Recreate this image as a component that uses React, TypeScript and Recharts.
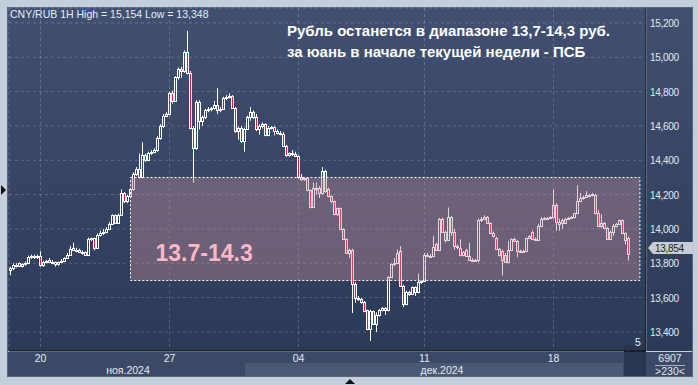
import React from "react";
import {
  ComposedChart,
  Bar,
  XAxis,
  YAxis,
  CartesianGrid,
  ReferenceArea,
  ReferenceLine,
} from "recharts";

// o, h, l, c  (price x1000)
type Candle = [number, number, number, number];

const week1: Candle[] = [
  [13760, 13780, 13730, 13770], [13770, 13800, 13760, 13790], [13790, 13800, 13775, 13785],
  [13800, 13805, 13780, 13785], [13785, 13800, 13775, 13795], [13795, 13810, 13785, 13800],
  [13800, 13845, 13795, 13835], [13835, 13850, 13825, 13840], [13840, 13850, 13825, 13835],
  [13835, 13850, 13825, 13840], [13840, 13870, 13780, 13790], [13790, 13815, 13780, 13810],
  [13810, 13820, 13800, 13815], [13820, 13830, 13800, 13805], [13810, 13820, 13795, 13800],
  [13805, 13810, 13780, 13795], [13795, 13810, 13785, 13805], [13805, 13825, 13800, 13815],
  [13815, 13835, 13810, 13830], [13830, 13860, 13825, 13850], [13850, 13900, 13845, 13885],
  [13890, 13920, 13875, 13880], [13880, 13890, 13865, 13870], [13875, 13885, 13860, 13865],
  [13865, 13875, 13850, 13860], [13865, 13870, 13845, 13850], [13850, 13950, 13845, 13940],
  [13940, 13950, 13930, 13945], [13945, 13950, 13875, 13890], [13890, 13975, 13885, 13965],
  [13965, 13990, 13955, 13975], [13975, 14000, 13965, 13985], [13985, 14010, 13975, 14000],
  [14000, 14040, 13995, 14030], [14030, 14085, 14025, 14080], [14080, 14085, 14030, 14035],
  [14035, 14090, 14030, 14080], [14080, 14230, 14075, 14210], [14210, 14215, 14150, 14160],
  [14160, 14200, 14150, 14190], [14190, 14240, 14180, 14230], [14230, 14330, 14225, 14320],
  [14320, 14360, 14310, 14350], [14350, 14440, 14295, 14300], [14300, 14505, 14295, 14430],
  [14430, 14440, 14390, 14400], [14400, 14450, 14395, 14440], [14440, 14460, 14430, 14450],
  [14450, 14470, 14440, 14460], [14460, 14540, 14450, 14530], [14530, 14610, 14520, 14600],
  [14600, 14670, 14590, 14660], [14660, 14680, 14650, 14670],
];

const week2: Candle[] = [
  [14670, 14800, 14660, 14790], [14790, 14805, 14730, 14745], [14745, 14890, 14740, 14885],
  [14885, 14940, 14870, 14930], [14930, 14945, 14880, 14920], [14920, 15040, 14910, 15030],
  [15030, 15154, 14900, 14910], [14910, 14920, 14580, 14590], [14590, 14600, 14270, 14470],
  [14470, 14750, 14460, 14740], [14740, 14750, 14580, 14630], [14630, 14660, 14600, 14650],
  [14650, 14700, 14640, 14690], [14690, 14710, 14680, 14700], [14700, 14710, 14685, 14705],
  [14705, 14745, 14695, 14720], [14720, 14820, 14670, 14690], [14690, 14710, 14680, 14700],
  [14700, 14770, 14695, 14760], [14760, 14780, 14750, 14770], [14770, 14790, 14760, 14775],
  [14775, 14780, 14700, 14705], [14705, 14710, 14560, 14570], [14570, 14595, 14520, 14590],
  [14590, 14600, 14500, 14510], [14510, 14590, 14450, 14585], [14585, 14660, 14580, 14650],
  [14650, 14710, 14630, 14680], [14680, 14690, 14640, 14650], [14650, 14670, 14570, 14580],
  [14580, 14610, 14550, 14600], [14600, 14620, 14585, 14610], [14610, 14615, 14540, 14545],
  [14545, 14600, 14540, 14590], [14590, 14600, 14580, 14592], [14592, 14600, 14545, 14570],
  [14570, 14580, 14550, 14560], [14560, 14570, 14545, 14555], [14555, 14565, 14480, 14485],
  [14485, 14490, 14420, 14430], [14430, 14445, 14420, 14440], [14440, 14460, 14425, 14435],
  [14435, 14450, 14420, 14425],
];

const week3: Candle[] = [
  [14425, 14430, 14290, 14300], [14300, 14320, 14280, 14290], [14290, 14300, 14280, 14295],
  [14295, 14300, 14220, 14225], [14225, 14230, 14120, 14130], [14130, 14270, 14125, 14240],
  [14240, 14270, 14200, 14235], [14240, 14250, 14180, 14210], [14210, 14360, 14200, 14340],
  [14340, 14345, 14210, 14220], [14230, 14240, 14185, 14190], [14190, 14195, 14150, 14160],
  [14160, 14165, 14080, 14085], [14085, 14125, 14075, 14120], [14120, 14125, 13995, 14000],
  [14000, 14005, 13935, 13940], [13940, 13945, 13855, 13860], [13860, 13885, 13830, 13880],
  [13880, 13885, 13510, 13680], [13680, 13690, 13570, 13595], [13595, 13610, 13580, 13590],
  [13590, 13600, 13565, 13575], [13575, 13580, 13515, 13520], [13525, 13530, 13410, 13415],
  [13415, 13530, 13348, 13520], [13520, 13525, 13440, 13445], [13445, 13515, 13400, 13500],
  [13500, 13535, 13490, 13530], [13530, 13545, 13520, 13540], [13540, 13545, 13500, 13530],
  [13530, 13725, 13520, 13720], [13720, 13800, 13715, 13795], [13795, 13830, 13785, 13800],
  [13800, 13880, 13795, 13860], [13870, 13900, 13665, 13670], [13670, 13675, 13545, 13560],
  [13560, 13640, 13555, 13630], [13630, 13640, 13610, 13620], [13620, 13665, 13615, 13660],
  [13660, 13665, 13610, 13630], [13630, 13740, 13625, 13690], [13690, 13700, 13680, 13695],
];

const week4: Candle[] = [
  [13695, 13860, 13690, 13850], [13850, 13860, 13835, 13845], [13845, 13855, 13830, 13840],
  [13840, 13960, 13835, 13895], [13910, 13920, 13875, 13880], [13880, 14065, 13875, 14060],
  [14060, 14065, 13980, 13985], [13985, 13990, 13920, 13935], [13935, 14125, 13930, 14070],
  [14070, 14075, 13960, 13985], [13985, 14000, 13880, 13900], [13900, 13910, 13880, 13895],
  [13890, 13940, 13840, 13850], [13850, 13870, 13840, 13865], [13880, 13885, 13840, 13845],
  [13845, 13920, 13815, 13820], [13820, 13830, 13810, 13815], [13815, 13825, 13810, 13818],
  [13818, 14060, 13805, 14050], [14050, 14070, 14040, 14060], [14060, 14080, 14055, 14070],
  [14070, 14075, 14030, 14035], [14035, 14040, 13970, 13975], [13975, 13985, 13950, 13960],
  [13950, 13955, 13880, 13885], [13885, 13890, 13840, 13850], [13870, 13880, 13730, 13820],
  [13850, 13860, 13805, 13810], [13810, 13930, 13800, 13880], [13880, 13945, 13875, 13940],
  [13940, 13950, 13925, 13930], [13930, 13935, 13835, 13870], [13870, 13880, 13860, 13868],
  [13868, 13880, 13860, 13872], [13872, 13950, 13865, 13945], [13945, 13965, 13940, 13960],
  [13980, 13990, 13935, 13940], [13940, 13950, 13930, 13935], [13935, 14030, 13930, 14020],
  [14020, 14070, 14010, 14060], [14060, 14070, 14050, 14062], [14062, 14070, 14055, 14065],
  [14065, 14075, 14060, 14070],
];

const week5: Candle[] = [
  [14070, 14230, 14060, 14140], [14140, 14150, 13990, 14040], [14040, 14060, 13990, 14030],
  [14050, 14060, 14000, 14035], [14035, 14065, 14030, 14060], [14060, 14070, 14055, 14065],
  [14065, 14075, 14060, 14068], [14068, 14095, 14060, 14090], [14090, 14255, 14085, 14165],
  [14165, 14210, 14160, 14180], [14180, 14195, 14170, 14185], [14185, 14220, 14180, 14195],
  [14195, 14205, 14185, 14198], [14198, 14210, 14190, 14205], [14200, 14205, 14085, 14090],
  [14090, 14110, 14015, 14020], [14020, 14085, 14005, 14035], [14035, 14040, 14000, 14005],
  [14005, 14010, 13935, 13940], [13940, 13990, 13935, 13980], [13980, 14030, 13960, 14020],
  [14020, 14035, 14010, 14030], [14030, 14055, 14025, 14050], [14050, 14055, 13970, 13975],
  [13975, 13980, 13910, 13935], [13945, 13955, 13815, 13854],
];

const dateTicks = [10, 53, 96, 138, 181];
const dateLabels = ["20", "27", "04", "11", "18"];
const monthLabels = ["ноя.2024", "дек.2024"];
const priceTicks = [13400, 13600, 13800, 14000, 14200, 14400, 14600, 14800, 15000, 15200];

const zoneLow = 13700;
const zoneHigh = 14300;
const zoneStart = 40;
const zoneEnd = 209.8;
const zoneLabel = "13.7-14.3";
const lastPrice = 13854;
const highPrice = 15154;
const lowPrice = 13348;

const data = [...week1, ...week2, ...week3, ...week4, ...week5].map(([o, h, l, c], i) => ({
  i,
  o,
  h,
  l,
  c,
  range: [l, h],
}));

const fmt = (v: number) => v.toLocaleString("en-US");
const FONT = "'Liberation Sans', Arial, sans-serif";

function CandleShape(props: any) {
  const { x, y, width, height, payload } = props;
  if (x == null || !payload) return null;
  const { o, h, l, c } = payload;
  const cx = Math.floor(x + width / 2) + 0.5;
  const py = (p: number) => (h === l ? y : y + ((h - p) / (h - l)) * height);
  const top = Math.round(py(Math.max(o, c))) + 0.5;
  let bot = Math.round(py(Math.min(o, c))) + 0.5;
  if (bot - top < 1) bot = top + 1;
  const down = c < o;
  return (
    <g>
      <line x1={cx} x2={cx} y1={y} y2={top} stroke="#fff" />
      <line x1={cx} x2={cx} y1={bot} y2={y + height} stroke="#fff" />
      <rect x={cx - 1} y={top} width={2} height={bot - top} fill={down ? "#e8143a" : "none"} stroke="#fff" />
    </g>
  );
}

const DateTick = (p: any) => (
  <text x={p.x} y={p.y + 3} textAnchor="middle" fill="#e4e9f0" fontSize={10.5} fontFamily={FONT}>
    {dateLabels[dateTicks.indexOf(p.payload.value)]}
  </text>
);

const PriceTick = (p: any) => (
  <text x={650} y={p.y + 4} textAnchor="start" fill="#e4e9f0" fontSize={10} letterSpacing={-0.3} fontFamily={FONT}>
    {fmt(p.payload.value)}
  </text>
);

const ZoneLabel = (p: any) => {
  const vb = p.viewBox;
  return (
    <text x={vb.x + 25} y={vb.y + vb.height - 19} fill="#ffb7c5" fontSize={23} fontWeight="bold" fontFamily={FONT}>
      {zoneLabel}
    </text>
  );
};

const PriceMarker = (p: any) => {
  const vb = p.viewBox;
  const x0 = vb.x + vb.width + 2;
  const yc = vb.y - 6;
  return (
    <g>
      <polygon
        points={`${x0},${yc} ${x0 + 5},${yc - 6} ${x0 + 47},${yc - 6} ${x0 + 47},${yc + 6} ${x0 + 5},${yc + 6}`}
        fill="#c6cdd7"
      />
      <text x={x0 + 7} y={yc + 4} fill="#222" fontSize={10} letterSpacing={-0.3} fontFamily={FONT}>
        {fmt(lastPrice)}
      </text>
    </g>
  );
};

export default function App() {
  return (
    <div style={{ position: "absolute", left: 0, top: 0, width: 698, height: 385, background: "#c5cfdb", overflow: "hidden", fontFamily: FONT }}>
      {/* frame */}
      <div style={{ position: "absolute", left: 7, top: 7, width: 686, height: 370, border: "1px solid #5a6476", boxSizing: "border-box" }} />
      <div style={{ position: "absolute", left: 8, top: 8, width: 638, height: 343, background: "linear-gradient(#415071, #2b3a57)" }} />
      <div style={{ position: "absolute", left: 647, top: 8, width: 45, height: 343, background: "linear-gradient(#415071, #2b3a57)" }} />
      <div style={{ position: "absolute", left: 8, top: 352, width: 684, height: 24, background: "#3c4966" }} />
      <div style={{ position: "absolute", left: 245, top: 363, width: 378, height: 13, background: "#4b5874" }} />
      <div style={{ position: "absolute", left: 624, top: 345, width: 22, height: 31, background: "#2a3650" }} />
      {/* small triangles on frame */}
      <div style={{ position: "absolute", left: 1, top: 185, width: 0, height: 0, borderTop: "5px solid transparent", borderBottom: "5px solid transparent", borderLeft: "5px solid #111" }} />
      <div style={{ position: "absolute", left: 345, top: 379, width: 0, height: 0, borderLeft: "5px solid transparent", borderRight: "5px solid transparent", borderBottom: "5px solid #111" }} />

      <div style={{ position: "absolute", left: 0, top: 0 }}>
        <ComposedChart width={698} height={385} data={data} margin={{ top: 8, right: 6, bottom: 8, left: 9 }}>
          <CartesianGrid stroke="rgba(255,255,255,0.2)" strokeDasharray="3 3" />
          <XAxis
            dataKey="i"
            type="number"
            domain={[-0.5, 211.833]}
            ticks={dateTicks}
            interval={0}
            height={26}
            axisLine={{ stroke: "#000" }}
            tickLine={false}
            tick={DateTick}
            allowDataOverflow
          />
          <YAxis
            orientation="right"
            domain={[13289, 15287]}
            ticks={priceTicks}
            interval={0}
            width={46}
            axisLine={{ stroke: "#000" }}
            tickLine={false}
            tick={PriceTick}
            allowDataOverflow
          />
          <Bar dataKey="range" barSize={3} shape={CandleShape} isAnimationActive={false} />
          <ReferenceArea
            x1={zoneStart}
            x2={zoneEnd}
            y1={zoneLow}
            y2={zoneHigh}
            fill="#c08e9e"
            fillOpacity={0.4}
            stroke="#ffffff"
            strokeDasharray="2 2"
            strokeWidth={1}
            label={ZoneLabel}
            zIndex={600}
          />
          <ReferenceLine y={lastPrice} stroke="none" label={PriceMarker} />
        </ComposedChart>
      </div>

      {/* texts */}
      <div style={{ position: "absolute", left: 10, top: 8, fontSize: 10.5, color: "#e8edf4", whiteSpace: "nowrap" }}>
        CNY/RUB 1H High = {fmt(highPrice)} Low = {fmt(lowPrice)}
      </div>
      <div style={{ position: "absolute", left: 287, top: 20, fontSize: 15, fontWeight: "bold", color: "#fff", lineHeight: "21px", whiteSpace: "nowrap" }}>
        Рубль останется в диапазоне 13,7-14,3 руб.
        <br />
        за юань в начале текущей недели - ПСБ
      </div>
      <div style={{ position: "absolute", left: 88, width: 80, top: 364, textAlign: "center", fontSize: 10.5, color: "#e4e9f0" }}>{monthLabels[0]}</div>
      <div style={{ position: "absolute", left: 402, width: 80, top: 364, textAlign: "center", fontSize: 10.5, color: "#e4e9f0" }}>{monthLabels[1]}</div>
      <div style={{ position: "absolute", left: 635, top: 336, fontSize: 10.5, color: "#e4e9f0" }}>5</div>
      <div style={{ position: "absolute", left: 648, width: 44, top: 352, textAlign: "center", fontSize: 10.5, color: "#e4e9f0" }}>6907</div>
      <div style={{ position: "absolute", left: 655, width: 30, top: 365, height: 1, background: "#aab4c4" }} />
      <div style={{ position: "absolute", left: 648, width: 44, top: 365, textAlign: "center", fontSize: 10.5, color: "#e4e9f0" }}>&gt;230&lt;</div>
    </div>
  );
}
